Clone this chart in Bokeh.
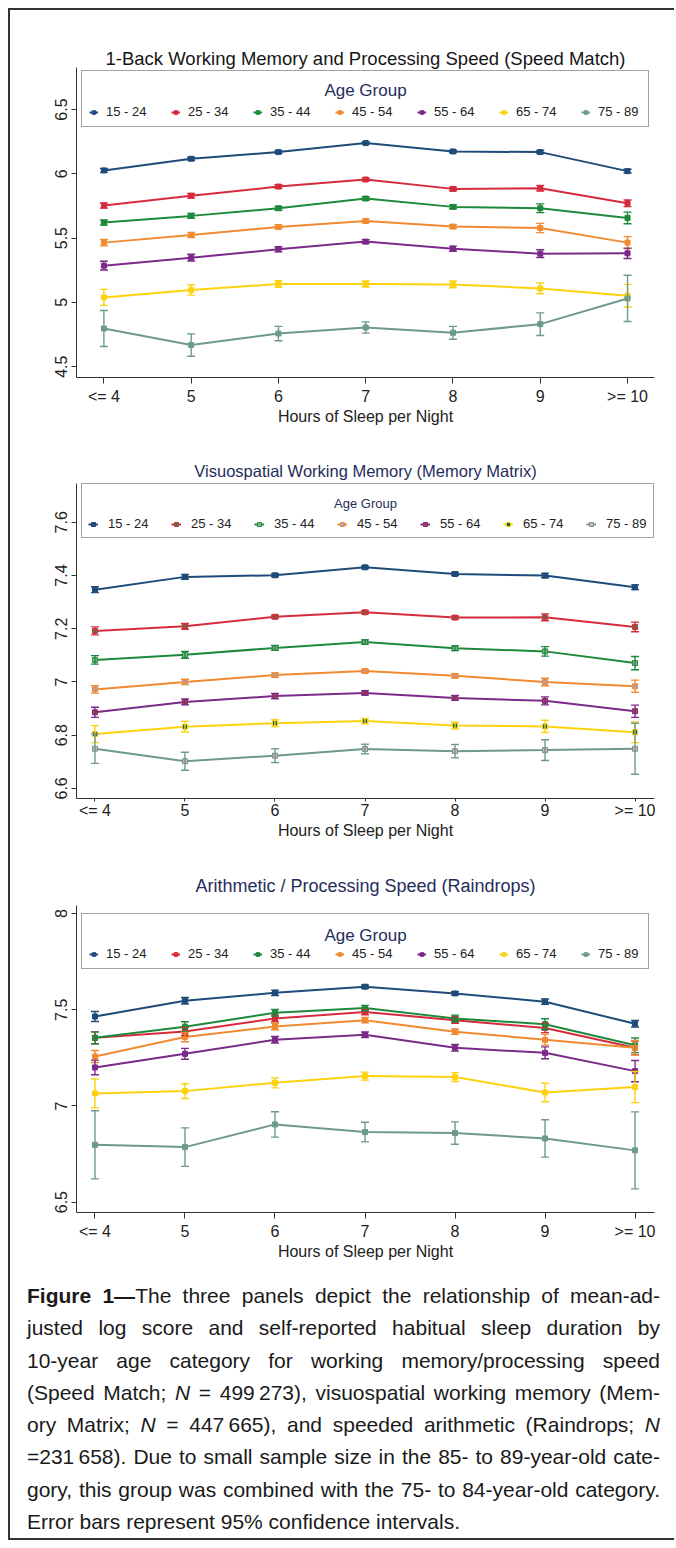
from bokeh.plotting import figure
from bokeh.models import (ColumnDataSource, Whisker, TeeHead, Legend, LegendItem,
                          Label, FixedTicker, Range1d, Div)
from bokeh.layouts import column
from bokeh.embed import file_html
from bokeh.resources import INLINE

FONT = "Liberation Sans"

# ---------------- data ----------------
sleep_labels = ["<= 4", "5", "6", "7", "8", "9", ">= 10"]
age_groups = ["15 - 24", "25 - 34", "35 - 44", "45 - 54", "55 - 64", "65 - 74", "75 - 89"]

# Panel 1: Speed Match (mean adjusted log score) and 95% CI half-widths
sm_15_24 = [6.026, 6.117, 6.169, 6.239, 6.174, 6.169, 6.021]
sm_25_34 = [5.753, 5.829, 5.901, 5.956, 5.883, 5.888, 5.771]
sm_35_44 = [5.621, 5.673, 5.732, 5.808, 5.743, 5.732, 5.657]
sm_45_54 = [5.465, 5.525, 5.587, 5.634, 5.590, 5.579, 5.465]
sm_55_64 = [5.286, 5.348, 5.413, 5.473, 5.418, 5.379, 5.382]
sm_65_74 = [5.039, 5.096, 5.143, 5.143, 5.140, 5.109, 5.052]
sm_75_89 = [4.797, 4.668, 4.758, 4.805, 4.764, 4.831, 5.031]
sm_ci_15_24 = [0.015, 0.012, 0.010, 0.008, 0.010, 0.012, 0.015]
sm_ci_25_34 = [0.020, 0.018, 0.014, 0.012, 0.014, 0.022, 0.026]
sm_ci_35_44 = [0.020, 0.018, 0.015, 0.014, 0.015, 0.034, 0.045]
sm_ci_45_54 = [0.025, 0.020, 0.015, 0.014, 0.015, 0.036, 0.047]
sm_ci_55_64 = [0.034, 0.026, 0.020, 0.015, 0.020, 0.030, 0.040]
sm_ci_65_74 = [0.062, 0.039, 0.026, 0.023, 0.026, 0.042, 0.088]
sm_ci_75_89 = [0.140, 0.087, 0.056, 0.044, 0.050, 0.088, 0.180]
sm_yticks = [4.5, 5, 5.5, 6, 6.5]

# Panel 2: Memory Matrix
mm_15_24 = [7.347, 7.395, 7.401, 7.431, 7.406, 7.400, 7.356]
mm_25_34 = [7.192, 7.209, 7.245, 7.262, 7.242, 7.243, 7.207]
mm_35_44 = [7.083, 7.102, 7.128, 7.150, 7.127, 7.115, 7.071]
mm_45_54 = [6.972, 7.000, 7.026, 7.041, 7.023, 7.000, 6.984]
mm_55_64 = [6.886, 6.925, 6.947, 6.959, 6.940, 6.929, 6.890]
mm_65_74 = [6.804, 6.832, 6.845, 6.853, 6.836, 6.833, 6.811]
mm_75_89 = [6.749, 6.702, 6.723, 6.748, 6.740, 6.744, 6.749]
mm_ci_15_24 = [0.011, 0.009, 0.006, 0.005, 0.006, 0.008, 0.009]
mm_ci_25_34 = [0.015, 0.011, 0.006, 0.006, 0.006, 0.013, 0.018]
mm_ci_35_44 = [0.016, 0.013, 0.009, 0.008, 0.009, 0.018, 0.025]
mm_ci_45_54 = [0.014, 0.010, 0.008, 0.006, 0.008, 0.014, 0.023]
mm_ci_55_64 = [0.019, 0.011, 0.010, 0.008, 0.009, 0.015, 0.023]
mm_ci_65_74 = [0.032, 0.020, 0.013, 0.010, 0.013, 0.023, 0.039]
mm_ci_75_89 = [0.055, 0.034, 0.026, 0.018, 0.025, 0.039, 0.096]
mm_yticks = [6.6, 6.8, 7, 7.2, 7.4, 7.6]

# Panel 3: Raindrops
rd_15_24 = [7.465, 7.547, 7.588, 7.620, 7.585, 7.542, 7.427]
rd_25_34 = [7.354, 7.387, 7.455, 7.488, 7.446, 7.405, 7.302]
rd_35_44 = [7.354, 7.412, 7.484, 7.509, 7.455, 7.425, 7.315]
rd_45_54 = [7.257, 7.358, 7.413, 7.446, 7.386, 7.344, 7.302]
rd_55_64 = [7.200, 7.271, 7.344, 7.370, 7.302, 7.276, 7.181]
rd_65_74 = [7.065, 7.077, 7.120, 7.155, 7.150, 7.070, 7.098]
rd_75_89 = [6.798, 6.786, 6.904, 6.864, 6.859, 6.831, 6.769]
rd_ci_15_24 = [0.026, 0.017, 0.014, 0.009, 0.009, 0.014, 0.017]
rd_ci_25_34 = [0.031, 0.021, 0.017, 0.014, 0.017, 0.024, 0.035]
rd_ci_35_44 = [0.031, 0.026, 0.017, 0.014, 0.017, 0.028, 0.038]
rd_ci_45_54 = [0.031, 0.024, 0.017, 0.014, 0.014, 0.028, 0.038]
rd_ci_55_64 = [0.038, 0.028, 0.017, 0.014, 0.017, 0.031, 0.055]
rd_ci_65_74 = [0.075, 0.038, 0.026, 0.021, 0.023, 0.048, 0.081]
rd_ci_75_89 = [0.177, 0.100, 0.066, 0.051, 0.058, 0.097, 0.200]
rd_yticks = [6.5, 7, 7.5, 8]

panel_titles = ["1-Back Working Memory and Processing Speed (Speed Match)",
                "Visuospatial Working Memory (Memory Matrix)",
                "Arithmetic / Processing Speed (Raindrops)"]
x_title = "Hours of Sleep per Night"
legend_title = "Age Group"

caption_lines = [
    "<b>Figure 1\u2014</b>The three panels depict the relationship of mean-ad-",
    "justed log score and self-reported habitual sleep duration by",
    "10-year age category for working memory/processing speed",
    "(Speed Match; <i>N</i> = 499\u2009273), visuospatial working memory (Mem-",
    "ory Matrix; <i>N</i> = 447\u2009665), and speeded arithmetic (Raindrops; <i>N</i>",
    "=231\u2009658). Due to small sample size in the 85- to 89-year-old cate-",
    "gory, this group was combined with the 75- to 84-year-old category.",
    "Error bars represent 95% confidence intervals.",
]

# ---------------- styles ----------------
line_colors = ["#1f4b7a", "#d62b3c", "#1d8a3b", "#f08b31", "#7b2a8a", "#fcd20f", "#6e9a8c"]
mm_marker_colors = ["#1f4b7a", "#2f8b4a", "#8fb39a", "#a3a0dc", "#a8452e", "#0e5e66", "#e0aab0"]
NAVY = "#1f2d5c"
W = 664


def make_panel(title, means, cis, yticks, marker_colors, cfg):
    xs = list(range(1, len(sleep_labels) + 1))
    H = cfg["height"]
    p = figure(width=W, height=H, output_backend="svg", toolbar_location=None,
               x_range=Range1d(*cfg["xr"]), y_range=Range1d(*cfg["yr"]),
               min_border_left=cfg["mbl"], min_border_right=cfg["mbr"],
               min_border_top=cfg["mbt"], min_border_bottom=cfg["mbb"])
    p.title.text = title
    p.title.align = "center"
    p.title.text_font = FONT
    p.title.text_font_style = "normal"
    p.title.text_font_size = cfg["title_size"]
    p.title.text_color = cfg["title_color"]
    p.title.standoff = cfg["title_standoff"]
    p.xgrid.visible = False
    p.ygrid.visible = False
    p.outline_line_color = None
    p.background_fill_color = "white"
    p.border_fill_color = "white"

    for ax in (p.xaxis[0], p.yaxis[0]):
        ax.axis_line_color = "#333333"
        ax.major_tick_line_color = "#333333"
        ax.major_tick_in = 0
        ax.minor_tick_line_color = None
        ax.major_label_text_font = FONT
        ax.major_label_text_font_size = "16px"
        ax.major_label_text_color = "#222222"

    p.xaxis.ticker = FixedTicker(ticks=xs)
    p.xaxis.major_label_overrides = {x: lab for x, lab in zip(xs, sleep_labels)}
    p.xaxis.major_tick_out = cfg["xtick_out"]
    p.xaxis.major_label_standoff = cfg["xlab_standoff"]
    p.xaxis.major_label_text_line_height = 1.0
    p.xaxis.axis_label = x_title
    p.xaxis.axis_label_text_font = FONT
    p.xaxis.axis_label_text_font_style = "normal"
    p.xaxis.axis_label_text_font_size = "16px"
    p.xaxis.axis_label_text_color = "#222222"
    p.xaxis.axis_label_text_line_height = 1.0
    p.xaxis.axis_label_standoff = 0

    p.yaxis.ticker = FixedTicker(ticks=yticks)
    p.yaxis.major_label_overrides = {v: f"{v:g}" for v in yticks}
    p.yaxis.major_label_orientation = "vertical"
    p.yaxis.major_tick_out = 5
    p.yaxis.major_label_standoff = 4

    items = []
    for grp, m, ci, lc, mc in zip(age_groups, means, cis, line_colors, marker_colors):
        src = ColumnDataSource(dict(x=xs, y=m,
                                    upper=[a + b for a, b in zip(m, ci)],
                                    lower=[a - b for a, b in zip(m, ci)]))
        wk = Whisker(source=src, base="x", upper="upper", lower="lower",
                     line_color=lc, line_width=1.4, level="glyph",
                     upper_head=TeeHead(size=8, line_color=lc, line_width=1.4),
                     lower_head=TeeHead(size=8, line_color=lc, line_width=1.4))
        p.add_layout(wk)
        rl = p.line("x", "y", source=src, line_color=lc, line_width=2)
        rs = p.scatter("x", "y", source=src, marker="square", size=5,
                       fill_color=mc, line_color=lc, line_width=1)
        items.append(LegendItem(label=grp, renderers=[rl, rs]))

    y0, y1 = cfg["yr"]
    frame_h = H - cfg["mbt"] - cfg["mbb"]
    y_age = y1 - cfg["age_dy"] * (y1 - y0) / frame_h
    age_label = Label(x=sum(cfg["xr"]) / 2, y=y_age, text=legend_title,
                      x_units="data", y_units="data",
                      text_align="center", text_baseline="middle",
                      text_font=FONT, text_font_size=cfg["age_size"], text_color=NAVY)
    p.add_layout(age_label)

    leg = Legend(items=items, orientation="horizontal", location=cfg["leg_loc"],
                 margin=cfg["leg_margin"], padding=cfg["leg_pad"], spacing=cfg["leg_spacing"],
                 glyph_width=cfg["glyph_w"], glyph_height=14,
                 label_width=cfg["label_w"], label_height=14,
                 label_standoff=cfg["label_standoff"],
                 label_text_font=FONT, label_text_font_size="13px", label_text_color="#222222",
                 border_line_color="#444444", border_line_width=1,
                 background_fill_alpha=0,
                 title="\u00a0", title_text_font_size="14px",
                 title_standoff=cfg["leg_title_standoff"])
    p.add_layout(leg)
    return p


cfg1 = dict(height=420, xr=(0.686, 7.309), yr=(4.416, 6.827), mbl=66, mbr=19, mbt=57, mbb=53,
            title_size="18.5px", title_color="#161616", title_standoff=-3,
            xtick_out=6, xlab_standoff=4,
            leg_loc="top_center", leg_margin=3, leg_pad=7, leg_spacing=22, glyph_w=9,
            label_w=43, label_standoff=8, leg_title_standoff=10, age_dy=23, age_size="17px")
cfg2 = dict(height=420, xr=(0.795, 7.216), yr=(6.562, 7.746), mbl=65, mbr=20, mbt=53, mbb=52,
            title_size="16.5px", title_color=NAVY, title_standoff=7,
            xtick_out=3, xlab_standoff=0,
            leg_loc="top_right", leg_margin=0, leg_pad=6, leg_spacing=22, glyph_w=10,
            label_w=41, label_standoff=10, leg_title_standoff=10, age_dy=20, age_size="13px")
cfg3 = dict(height=420, xr=(0.795, 7.216), yr=(6.446, 8.042), mbl=65, mbr=20, mbt=55, mbb=58,
            title_size="18px", title_color=NAVY, title_standoff=20,
            xtick_out=6, xlab_standoff=4,
            leg_loc="top_center", leg_margin=8, leg_pad=7, leg_spacing=22, glyph_w=9,
            label_w=43, label_standoff=8, leg_title_standoff=9, age_dy=30, age_size="17px")

p1 = make_panel(panel_titles[0],
                [sm_15_24, sm_25_34, sm_35_44, sm_45_54, sm_55_64, sm_65_74, sm_75_89],
                [sm_ci_15_24, sm_ci_25_34, sm_ci_35_44, sm_ci_45_54, sm_ci_55_64, sm_ci_65_74, sm_ci_75_89],
                sm_yticks, line_colors, cfg1)
p2 = make_panel(panel_titles[1],
                [mm_15_24, mm_25_34, mm_35_44, mm_45_54, mm_55_64, mm_65_74, mm_75_89],
                [mm_ci_15_24, mm_ci_25_34, mm_ci_35_44, mm_ci_45_54, mm_ci_55_64, mm_ci_65_74, mm_ci_75_89],
                mm_yticks, mm_marker_colors, cfg2)
p3 = make_panel(panel_titles[2],
                [rd_15_24, rd_25_34, rd_35_44, rd_45_54, rd_55_64, rd_65_74, rd_75_89],
                [rd_ci_15_24, rd_ci_25_34, rd_ci_35_44, rd_ci_45_54, rd_ci_55_64, rd_ci_65_74, rd_ci_75_89],
                rd_yticks, line_colors, cfg3)

just = "text-align:justify;text-align-last:justify;"
html_lines = []
for i, ln in enumerate(caption_lines):
    style = just if i < len(caption_lines) - 1 else "text-align:left;"
    html_lines.append(f'<div style="{style}">{ln}</div>')
caption_html = (
    '<div style="font-family:\'Liberation Sans\',Arial,sans-serif;font-size:21px;'
    'line-height:32.3px;color:#1a1a1a;box-sizing:border-box;width:650px;'
    'padding:10px 0 0 17px;">'
    + "".join(html_lines) + "</div>"
)
cap = Div(text=caption_html, width=W, height=268, margin=0)

layout = column(p1, p2, p3, cap, spacing=0,
                styles={"margin-top": "8px", "margin-left": "8px",
                        "border-top": "2px solid #333", "border-left": "2px solid #333",
                        "border-bottom": "2px solid #333"})

open("out.html", "w").write(file_html(layout, INLINE))
